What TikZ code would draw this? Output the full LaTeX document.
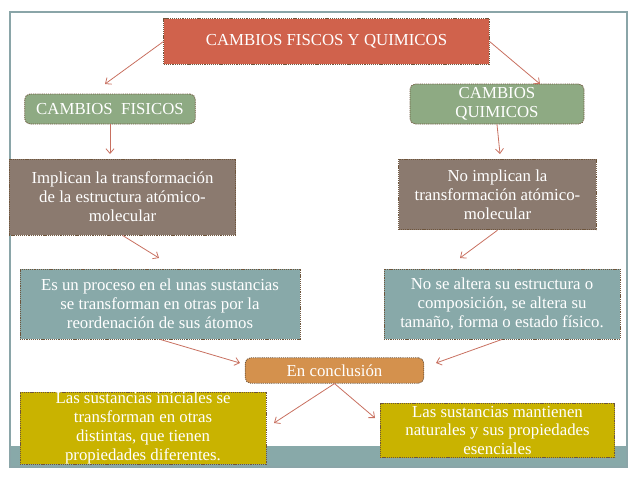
\documentclass[tikz,border=0pt]{standalone}
\usepackage{fontspec}
\setmainfont{Liberation Serif}
\usetikzlibrary{arrows.meta}
\definecolor{redbox}{RGB}{208,98,76}
\definecolor{greenbox}{RGB}{142,170,131}
\definecolor{brownbox}{RGB}{139,122,111}
\definecolor{tealbox}{RGB}{136,169,169}
\definecolor{orangebox}{RGB}{212,145,77}
\definecolor{mustardbox}{RGB}{201,179,0}
\definecolor{framec}{RGB}{138,165,168}
\definecolor{arrowc}{RGB}{200,112,96}
\definecolor{edgec}{RGB}{110,85,60}
\begin{document}
\begin{tikzpicture}[x=0.75pt,y=-0.75pt,
  every node/.style={font=\fontsize{12.6}{14.2}\selectfont,text=white,align=center},
  box/.style={draw=edgec,dash pattern=on 0.9pt off 0.7pt,line width=0.6pt,inner xsep=2pt,inner ysep=0pt},
  conn/.style={draw=arrowc,line width=0.6pt,-{Straight Barb[length=3.5pt,width=6pt]}}]
\useasboundingbox (0,0) rectangle (638,479);
\fill[tealbox] (10,446) rectangle (627,467);
\draw[framec,line width=0.8pt] (10,12) rectangle (627,467);

\node[box,fill=redbox,minimum width=244pt,minimum height=34pt] (top) at (326.5,41.5) {CAMBIOS FISCOS Y QUIMICOS};
\node[box,fill=greenbox,rounded corners=4pt,minimum width=128pt,minimum height=22.5pt] (fis) at (110,109) {CAMBIOS\ \ FISICOS};
\node[box,fill=greenbox,rounded corners=4pt,minimum width=130.5pt,minimum height=30pt] (qui) at (497,104) {CAMBIOS\\QUIMICOS};
\node[box,fill=brownbox,minimum width=170pt,minimum height=57pt] (impl) at (122.5,197) {Implican la transformación\\de la estructura atómico-\\molecular};
\node[box,fill=brownbox,minimum width=148pt,minimum height=53pt] (noimpl) at (497.5,194.5) {No implican la\\transformación atómico-\\molecular};
\node[box,fill=tealbox,minimum width=210pt,minimum height=52.5pt] (proceso) at (160,304) {Es un proceso en el unas sustancias\\se transforman en otras por la\\reordenación de sus átomos};
\node[box,fill=tealbox,minimum width=177pt,minimum height=52.5pt] (altera) at (502,304) {No se altera su estructura o\\composición, se altera su\\tamaño, forma o estado físico.};
\node[box,fill=orangebox,rounded corners=4pt,minimum width=134pt,minimum height=19pt] (concl) at (334.5,370.5) {En conclusión};
\node[box,fill=mustardbox,minimum width=184.5pt,minimum height=52.5pt] (inic) at (143,428) {Las sustancias iníciales se\\transforman en otras\\distintas, que tienen\\propiedades diferentes.};
\node[box,fill=mustardbox,minimum width=176pt,minimum height=41pt] (mant) at (497.5,430.5) {Las sustancias mantienen\\naturales y sus propiedades\\esenciales};

\coordinate (fisin) at (105,84);
\coordinate (quiin) at (540,84);
\coordinate (implin) at (110,154);
\coordinate (noimplin) at (500,154);
\coordinate (procesoin) at (159,258);
\coordinate (alterain) at (460,258);
\coordinate (conclinl) at (240,363);
\coordinate (conclinr) at (436,363);
\coordinate (inicin) at (274,423);
\coordinate (mantin) at (375,418);

\draw[conn] (top.west) -- (fisin);
\draw[conn] (top.east) -- (quiin);
\draw[conn] (fis.south) -- (implin);
\draw[conn] (qui.south) -- (noimplin);
\draw[conn] (impl.south) -- (procesoin);
\draw[conn] (noimpl.south) -- (alterain);
\draw[conn] (proceso.south) -- (conclinl);
\draw[conn] (altera.south) -- (conclinr);
\draw[conn] (concl.south) -- (inicin);
\draw[conn] (concl.south) -- (mantin);
\end{tikzpicture}
\end{document}
